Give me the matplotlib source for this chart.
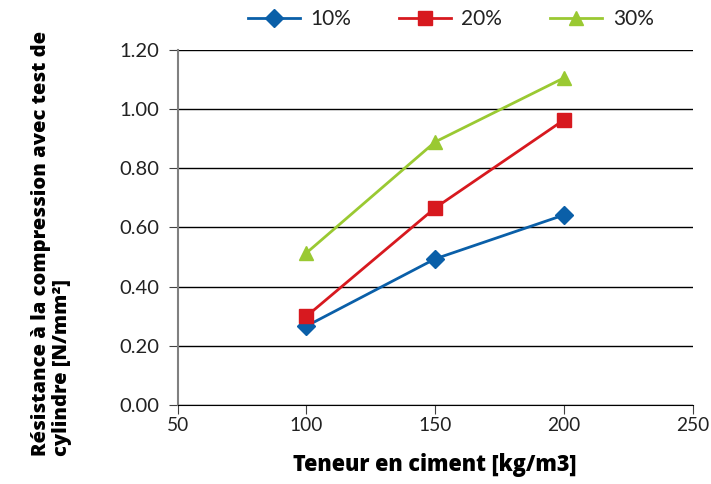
import matplotlib.pyplot as plt

teneur = [100, 150, 200]
r10 = [0.267, 0.494, 0.642]
r20 = [0.300, 0.666, 0.963]
r30 = [0.514, 0.889, 1.105]
labels = ['10%', '20%', '30%']

plt.rcParams['font.family'] = ['Lato', 'DejaVu Sans']

fig = plt.figure(figsize=(7.11, 4.84), dpi=100)
ax = fig.add_axes([0.25, 0.163, 0.724, 0.734])

ax.plot(teneur, r10, color='#0a5fa8', marker='D', markersize=9, lw=2, label=labels[0])
ax.plot(teneur, r20, color='#d7191f', marker='s', markersize=10, lw=2, label=labels[1])
ax.plot(teneur, r30, color='#9ac932', marker='^', markersize=10, lw=2, label=labels[2])

ax.set_xlim(50, 250)
ax.set_ylim(0, 1.2)
ax.set_xticks([50, 100, 150, 200, 250])
ax.set_yticks([0, 0.2, 0.4, 0.6, 0.8, 1.0, 1.2])
ax.set_yticklabels(['%.2f' % v for v in ax.get_yticks()])
ax.tick_params(labelsize=14.5, length=6.5, direction='out', color='#404040', labelcolor='#222222')
ax.tick_params(axis='x', pad=2, labelsize=13.8)
ax.tick_params(axis='y', pad=7)
ax.yaxis.grid(True, color='#000000', lw=1)
ax.set_axisbelow(True)

for s in ['top', 'right']:
    ax.spines[s].set_visible(False)
ax.spines['left'].set_color('#808080')
ax.spines['left'].set_linewidth(1.5)
ax.spines['bottom'].set_color('#000000')

bold = dict(family=['Open Sans', 'DejaVu Sans'], fontweight='heavy')
ax.set_xlabel('Teneur en ciment [kg/m3]', fontsize=15.5, labelpad=14, **bold)
ax.set_ylabel('Résistance à la compression avec test de\ncylindre [N/mm²]',
              fontsize=14.5, multialignment='left', linespacing=1.05, **bold)
ax.yaxis.set_label_coords(-0.205, 0.455)

ax.legend(loc='center', bbox_to_anchor=(0.53, 1.087), ncol=3, frameon=False,
          fontsize=15, handlelength=2.5, handletextpad=0.5, columnspacing=2.3,
          borderaxespad=0, markerscale=1.0, labelcolor='#222222')

fig.savefig('out.png', dpi=100)
